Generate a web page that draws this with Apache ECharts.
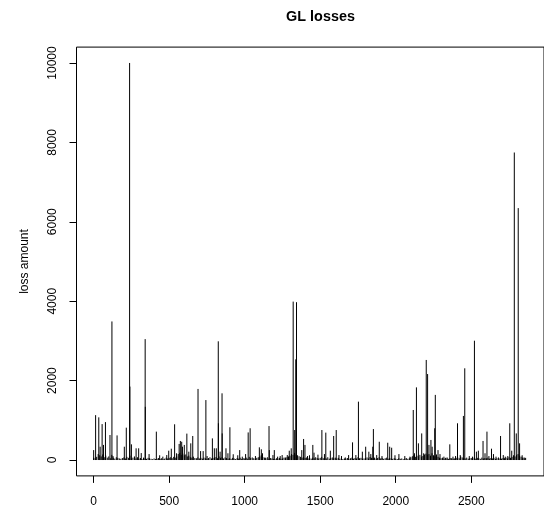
<!DOCTYPE html>
<html>
<head>
<meta charset="utf-8">
<title>GL losses</title>
<script src="https://cdn.jsdelivr.net/npm/echarts@6/dist/echarts.min.js"></script>
<style>
  html, body { margin: 0; padding: 0; background: #fff; }
  #chart { width: 544px; height: 509px; }
</style>
</head>
<body>
<div id="chart"></div>
<script>
// Large individual losses: observation number and amount
const spikeIndex = [
  0, 13, 34, 43, 56, 65, 78, 108, 121, 128, 155, 203, 216, 238, 240, 250, 281, 298, 315, 341, 342,
  367, 415, 437, 458, 484, 497, 514, 536, 549,
  566, 574, 583, 588, 600, 617, 630, 643, 656, 691, 708, 725, 743, 751, 786, 799, 812, 825, 826,
  837, 850, 851, 876, 889, 902, 924, 954, 967, 984, 1006, 1023, 1036, 1071, 1097, 1110,
  1118, 1136, 1161, 1163, 1187, 1196, 1218, 1235, 1248, 1269, 1282, 1295, 1308, 1321, 1331, 1338,
  1343, 1378, 1390, 1399, 1416, 1429, 1451, 1459, 1485, 1511, 1528, 1537, 1567, 1589, 1606, 1624,
  1641, 1666, 1688,
  1714, 1736, 1753, 1779, 1801, 1822, 1835, 1848, 1852, 1874, 1891, 1909, 1947, 1960, 1973, 1995,
  2021, 2060, 2094, 2116, 2124, 2137, 2150, 2172, 2185, 2202, 2211, 2220, 2233, 2241, 2258, 2262,
  2280, 2293, 2319, 2340, 2358, 2379, 2396, 2409, 2427, 2448, 2457, 2487, 2508, 2521, 2534, 2547,
  2578, 2591, 2604, 2617, 2634, 2647, 2664, 2694, 2712, 2725, 2742, 2755, 2768, 2785, 2798, 2811,
  2820, 2837, 2850
];
const spikeLoss = [
  250, 1130, 1075, 335, 905, 380, 955, 630, 3490, 100, 620, 335, 815, 10000, 1850, 395, 295, 295, 175, 3045, 1340,
  150, 715, 120, 85, 125, 235, 285, 900, 170,
  405, 480, 460, 335, 380, 665, 210, 420, 605, 1790, 225, 225, 1510, 100, 545, 295, 295, 2990, 925,
  210, 1680, 670, 295, 170, 825, 145, 120, 250, 85, 150, 695, 800, 100, 320, 270,
  170, 60, 855, 250, 125, 250, 85, 100, 125, 65, 125, 235, 295, 3990, 755, 2535,
  3975, 250, 530, 380, 100, 120, 380, 185, 135, 755, 150, 690, 235, 605, 755, 125,
  100, 65, 125,
  445, 125, 1470, 210, 335, 210, 150, 335, 780, 125, 460, 100, 435, 335, 310, 120,
  150, 100, 85, 1260, 170, 1830, 420, 670, 170, 2520, 2165, 380, 505, 335, 800, 1640,
  250, 150, 85, 65, 395, 85, 100, 925, 125, 1110, 2310, 100, 85, 3005, 210, 235,
  480, 170, 715, 100, 285, 150, 85, 605, 125, 85, 100, 925, 235, 7745, 670, 6345,
  420, 120, 65
];

// Everyday small losses, one every 10 observations starting at 0
const baseStep = 10;
const baseLoss = [
  60, 45, 80, 150, 120, 90, 140, 70, 110, 60,
  90, 45, 130, 60, 35, 70, 55, 40, 30, 50,
  65, 40, 80, 55, 110, 45, 60, 90, 40, 70,
  35, 50, 25, 60, 40, 30, 55, 45, 30, 20,
  40, 25, 35, 50, 30, 45, 20, 35, 60, 40,
  55, 70, 45, 80, 60, 90, 150, 180, 130, 160,
  120, 140, 90, 110, 70, 60, 85, 50, 45, 65,
  40, 55, 35, 60, 45, 30, 50, 70, 40, 55,
  60, 75, 45, 90, 55, 70, 40, 65, 50, 35,
  45, 30, 55, 40, 25, 50, 35, 60, 30, 45,
  40, 60, 35, 80, 50, 65, 45, 30, 55, 70,
  90, 120, 75, 60, 45, 70, 35, 50, 40, 30,
  25, 45, 35, 55, 30, 40, 60, 45, 70, 90,
  110, 150, 130, 180, 140, 120, 95, 80, 60, 75,
  50, 65, 40, 55, 35, 60, 45, 70, 50, 40,
  55, 80, 45, 60, 40, 70, 35, 50, 65, 45,
  60, 40, 55, 30, 45, 25, 40, 35, 50, 30,
  45, 60, 35, 50, 40, 70, 45, 55, 30, 40,
  50, 65, 40, 75, 55, 45, 60, 35, 50, 70,
  40, 55, 30, 45, 60, 35, 50, 40, 30, 45,
  35, 25, 45, 30, 40, 20, 35, 50, 30, 45,
  70, 95, 120, 80, 110, 90, 130, 85, 100, 140,
  160, 130, 150, 110, 170, 120, 95, 140, 80, 60,
  45, 60, 35, 55, 40, 30, 50, 45, 35, 40,
  55, 70, 45, 90, 65, 50, 40, 60, 35, 45,
  50, 40, 65, 35, 55, 45, 30, 60, 40, 50,
  45, 60, 35, 50, 40, 55, 30, 45, 65, 40,
  35, 50, 45, 60, 40, 70, 55, 80, 120, 90,
  130, 150, 110, 85, 60, 45, 55
];

const xTicks = [0, 500, 1000, 1500, 2000, 2500];
const yTicks = [0, 2000, 4000, 6000, 8000, 10000];

const points = [];
baseLoss.forEach((v, i) => points.push([i * baseStep, v]));
spikeIndex.forEach((x, i) => points.push([x, spikeLoss[i]]));

const FONT = '"Liberation Sans", Arial, Helvetica, sans-serif';
const plain = v => String(v);

const chart = echarts.init(document.getElementById('chart'), null, { renderer: 'canvas' });
chart.setOption({
  animation: false,
  backgroundColor: '#ffffff',
  title: {
    text: 'GL losses',
    left: 315.5,
    textAlign: 'center',
    top: 5,
    textStyle: { fontFamily: FONT, fontSize: 14.4, fontWeight: 'bold', color: '#000' }
  },
  grid: {
    left: 76.5, top: 47.1, width: 477.9, height: 428.8,
    show: true, borderColor: '#000', borderWidth: 1, backgroundColor: 'transparent'
  },
  xAxis: {
    type: 'value',
    min: -113.6, max: 2981.6,
    splitLine: { show: false },
    axisLine: { show: false, onZero: false },
    axisTick: { show: true, customValues: xTicks, length: 7, lineStyle: { color: '#000', width: 1 } },
    axisLabel: { customValues: xTicks, formatter: plain, fontFamily: FONT, fontSize: 12, color: '#000', margin: 20 }
  },
  yAxis: {
    type: 'value',
    min: -400, max: 10400,
    name: 'loss amount',
    nameLocation: 'middle',
    nameRotate: 90,
    nameGap: 46,
    nameTextStyle: { fontFamily: FONT, fontSize: 12, color: '#000' },
    splitLine: { show: false },
    axisLine: { show: false, onZero: false },
    axisTick: { show: true, customValues: yTicks, length: 7, lineStyle: { color: '#000', width: 1 } },
    axisLabel: { customValues: yTicks, formatter: plain, rotate: 90, fontFamily: FONT, fontSize: 12, color: '#000', margin: 18 }
  },
  series: [{
    type: 'custom',
    data: points,
    encode: { x: 0, y: 1 },
    renderItem: function (params, api) {
      const x = api.value(0);
      const y = api.value(1);
      const p0 = api.coord([x, 0]);
      const p1 = api.coord([x, y]);
      return {
        type: 'line',
        shape: { x1: p0[0], y1: p0[1], x2: p1[0], y2: p1[1] },
        style: { stroke: '#000', lineWidth: 1 }
      };
    }
  }]
});
</script>
</body>
</html>
